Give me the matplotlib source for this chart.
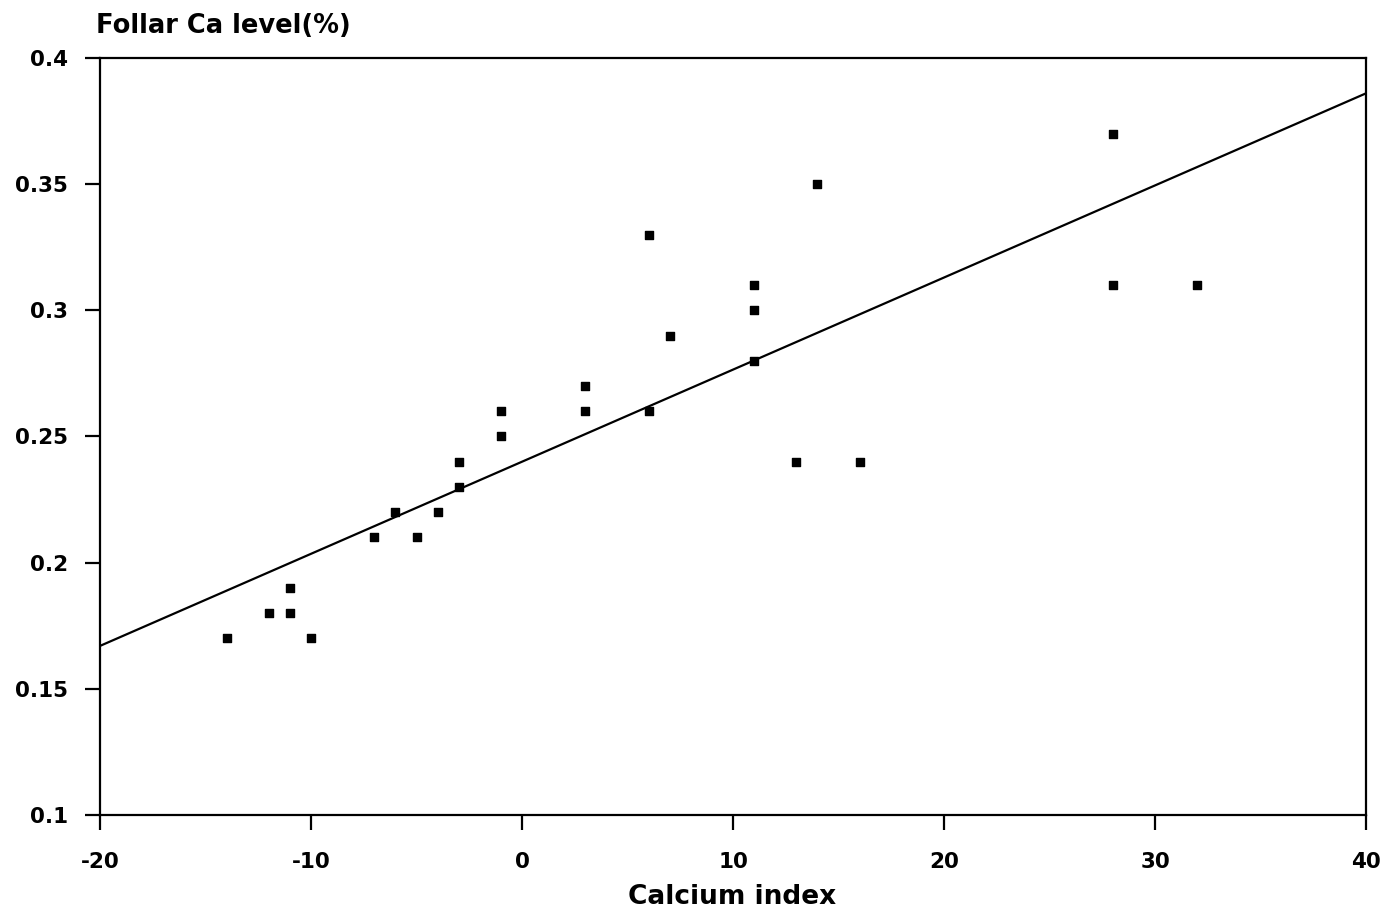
import matplotlib
matplotlib.use("Agg")
import matplotlib.pyplot as plt

# calcium index vs foliar Ca level
calcium_index = [-14, -12, -11, -11, -10, -7, -6, -5, -4, -3, -3, -1, -1,
                 3, 3, 6, 6, 7, 11, 11, 11, 13, 14, 16, 28, 28, 32]
foliar_ca = [0.17, 0.18, 0.19, 0.18, 0.17, 0.21, 0.22, 0.21, 0.22, 0.24, 0.23, 0.26, 0.25,
             0.27, 0.26, 0.33, 0.26, 0.29, 0.31, 0.30, 0.28, 0.24, 0.35, 0.24, 0.37, 0.31, 0.31]

# fitted line end points
fit_x = [-20, 40]
fit_y = [0.167, 0.386]

x_ticks = [-20, -10, 0, 10, 20, 30, 40]
x_labels = ["-20", "-10", "0", "10", "20", "30", "40"]
y_ticks = [0.1, 0.15, 0.2, 0.25, 0.3, 0.35, 0.4]
y_labels = ["0.1", "0.15", "0.2", "0.25", "0.3", "0.35", "0.4"]

plt.rcParams['font.family'] = ['DejaVu Sans']

fig = plt.figure(figsize=(13.87, 9.16), dpi=100)
ax = fig.add_axes([0.0721, 0.1103, 0.9128, 0.8264])

ax.scatter(calcium_index, foliar_ca, marker='s', s=36, color='black', zorder=3)
ax.plot(fit_x, fit_y, color='black', linewidth=1.6)

ax.set_xlim(-20, 40)
ax.set_ylim(0.1, 0.4)
ax.set_xticks(x_ticks)
ax.set_xticklabels(x_labels)
ax.set_yticks(y_ticks)
ax.set_yticklabels(y_labels)

for s in ax.spines.values():
    s.set_linewidth(1.6)

ax.tick_params(axis='x', direction='out', length=11, width=1.6, pad=16,
               labelsize=15.5)
ax.tick_params(axis='y', direction='out', length=11, width=1.6, pad=12,
               labelsize=15.5)
for lab in ax.get_xticklabels() + ax.get_yticklabels():
    lab.set_fontweight('bold')

fig.text(0.069, 0.972, "Follar Ca level(%)", fontsize=18.5, fontweight='bold',
         ha='left', va='center')
fig.text(0.528, 0.021, "Calcium index", fontsize=19, fontweight='bold',
         ha='center', va='center')

fig.savefig("out.png", dpi=100)
